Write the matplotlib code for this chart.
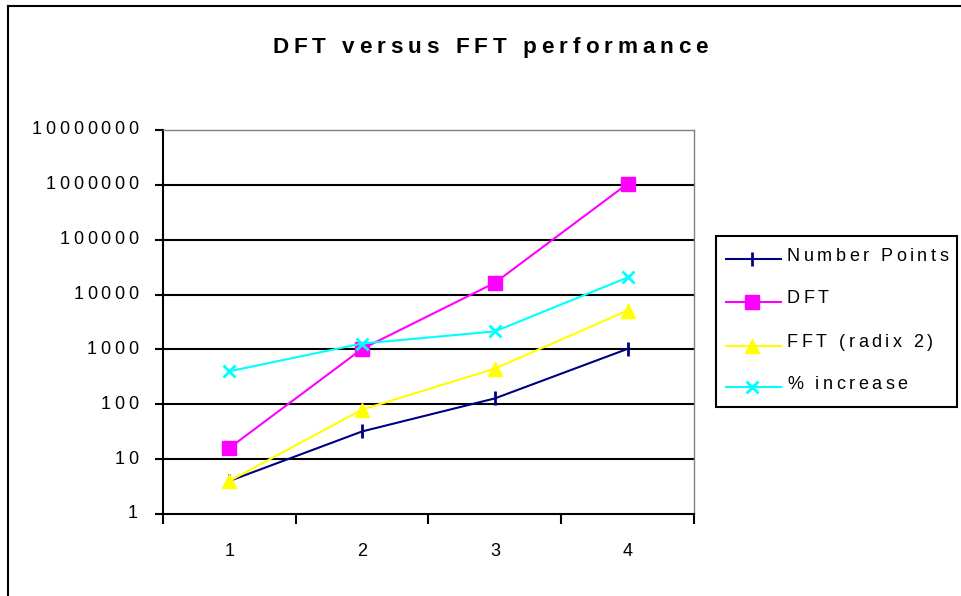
import math
import matplotlib
matplotlib.use('Agg')
import matplotlib.pyplot as plt
from matplotlib.font_manager import FontProperties, findfont
from matplotlib.ft2font import FT2Font
from matplotlib.lines import Line2D
from matplotlib.patches import Rectangle
from matplotlib.ticker import NullLocator, FixedLocator

# ---------------- data ----------------
categories = ['1', '2', '3', '4']
number_points = [4, 32, 128, 1024]
dft = [16, 1024, 16384, 1048576]
fft_radix2 = [4, 80, 448, 5120]
pct_increase = [400, 1280, 2130, 20480]
series_names = ['Number Points', 'DFT', 'FFT (radix 2)', '% increase']
y_ticks = [1, 10, 100, 1000, 10000, 100000, 1000000, 10000000]
y_tick_labels = ['1', '10', '100', '1000', '10000', '100000', '1000000', '10000000']
title_text = 'DFT versus FFT performance'

# ---------------- figure ----------------
W, H, DPI = 962, 596, 100
fig = plt.figure(figsize=(W / DPI, H / DPI), dpi=DPI)
fig.patch.set_facecolor('white')
FAMILY = 'Liberation Sans'


def fx(px):
    return px / W


def fy(py):
    return 1 - py / H


def px2pt(px):
    return px * 72.0 / DPI


def spaced_text(s, x_px, y_center_px, size_px, spacing_px, weight='normal', ha='left', color='black'):
    fp = FontProperties(family=FAMILY, weight=weight)
    path = findfont(fp)
    try:
        ft = FT2Font(path, hinting_factor=1)
        ft.set_size(px2pt(size_px), DPI)
        adv = [ft.load_char(ord(c)).linearHoriAdvance / 65536.0 for c in s]
    except Exception:
        adv = [0.56 * size_px for c in s]
    total = sum(adv) + spacing_px * (len(s) - 1)
    if ha == 'center':
        x0 = x_px - total / 2
    elif ha == 'right':
        x0 = x_px - total
    else:
        x0 = x_px
    baseline = y_center_px + 0.358 * size_px
    for c, a in zip(s, adv):
        fig.text(fx(x0), fy(baseline), c, fontsize=px2pt(size_px), family=FAMILY,
                 weight=weight, color=color, ha='left', va='baseline')
        x0 += a + spacing_px


# outer chart frame (top and left visible)
fig.add_artist(Line2D([fx(8), fx(8)], [fy(6), fy(600)], color='black', lw=1.5))
fig.add_artist(Line2D([fx(8), fx(965)], [fy(6), fy(6)], color='black', lw=1.5))

# ---------------- axes ----------------
ax = fig.add_axes([fx(163), fy(514), (694 - 163) / W, (514 - 130) / H])
ax.set_facecolor('white')
ax.set_yscale('log')
ax.set_ylim(y_ticks[0], y_ticks[-1])
ax.set_xlim(0, len(categories))

pos = [i + 0.5 for i in range(len(categories))]

styles = [
    dict(color='#000080', marker='|', ms=10, mew=2),
    dict(color='#FF00FF', marker='s', ms=9.5, mew=1),
    dict(color='#FFFF00', marker='^', ms=10.5, mew=1),
    dict(color='#00FFFF', marker='x', ms=9, mew=2),
]
series = [number_points, dft, fft_radix2, pct_increase]

for t in y_ticks[1:-1]:
    ax.axhline(t, color='black', lw=1.5, zorder=1)

for vals, st in zip(series, styles):
    ax.plot(pos, vals, color=st['color'], lw=1.5, marker=st['marker'], ms=st['ms'],
            mew=st['mew'], mfc=st['color'], mec=st['color'], zorder=3, clip_on=False)

ax.yaxis.set_major_locator(FixedLocator(y_ticks))
ax.yaxis.set_minor_locator(NullLocator())
ax.set_yticklabels([''] * len(y_ticks))
ax.xaxis.set_major_locator(FixedLocator(list(range(len(categories) + 1))))
ax.set_xticklabels([''] * (len(categories) + 1))
ax.xaxis.set_minor_locator(FixedLocator(pos))
ax.set_xticklabels(categories, minor=True)

ax.tick_params(axis='x', which='major', direction='out', length=7, width=1.5, color='black')
ax.tick_params(axis='x', which='minor', length=0, pad=21, labelsize=px2pt(18))
for lab in ax.get_xticklabels(minor=True):
    lab.set_family(FAMILY)
ax.tick_params(axis='y', which='major', direction='out', length=6, width=1.5, color='black')

for side in ('left', 'bottom'):
    ax.spines[side].set_color('black')
    ax.spines[side].set_linewidth(1.5)
for side in ('top', 'right'):
    ax.spines[side].set_color('#808080')
    ax.spines[side].set_linewidth(1)

# y tick labels (letter-spaced like the original)
ax_top, ax_bot = 130, 514
for t, lab in zip(y_ticks, y_tick_labels):
    frac = math.log10(t) / math.log10(y_ticks[-1])
    ypx = ax_bot - frac * (ax_bot - ax_top)
    spaced_text(lab, 138, ypx - 2, 18, 3.7, ha='right')

# title
spaced_text(title_text, 490, 44.7, 22.5, 5.2, weight='bold', ha='center')

# ---------------- legend ----------------
fig.add_artist(Rectangle((fx(716), fy(407)), (957 - 716) / W, (407 - 236) / H,
                         transform=fig.transFigure, fill=False, ec='black', lw=1.5))
leg_line_y = [259, 302, 346, 387]
leg_text_y = [255, 297, 341, 383]
for name, st, ly, ty in zip(series_names, styles, leg_line_y, leg_text_y):
    fig.add_artist(Line2D([fx(726), fx(781)], [fy(ly), fy(ly)], color=st['color'], lw=1.5))
    fig.add_artist(Line2D([fx(752)], [fy(ly)], color=st['color'], marker=st['marker'],
                          ms=st['ms'], mew=st['mew'], mfc=st['color'], mec=st['color'], lw=0))
    spaced_text(name, 787, ty, 18, 3.5, ha='left')

fig.savefig('out.png', dpi=DPI, facecolor='white')
